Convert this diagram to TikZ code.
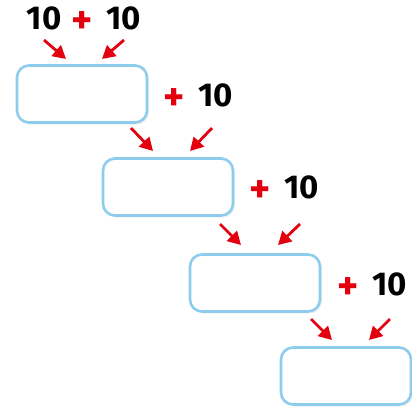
\documentclass[tikz,border=0pt]{standalone}
\usepackage{fontspec}
\setmainfont{Fira Sans}
\usepackage{xcolor}
\usepackage{tikz}
\usetikzlibrary{arrows.meta,shadows}
\definecolor{skyline}{HTML}{8CCDEE}
\definecolor{plusred}{HTML}{E3000F}
\newcommand{\redplus}{\textcolor{plusred}{\fontsize{20}{18}\selectfont\raisebox{-2.2pt}{+}}}

\begin{document}
\begin{tikzpicture}[x=0.5pt,y=-0.5pt,
  answer/.style={draw=skyline,line width=1.3pt,fill=white,rounded corners=6pt,
    minimum width=65pt,minimum height=28.5pt,inner sep=0pt,
    drop shadow={opacity=0.12,shadow xshift=1pt,shadow yshift=-1pt}},
  sum/.style={font=\fontsize{16.5}{18}\selectfont\bfseries,inner sep=0pt},
  hint/.style={plusred,line width=1.4pt,-{Triangle[length=6.5pt,width=7pt]}}]
\useasboundingbox (0,0) rectangle (412,408);
% boxes, one step down and right each time
\node[answer] (b1) at (82,94) {};
\node[answer] (b2) at (168,187) {};
\node[answer] (b3) at (255,283) {};
\node[answer] (b4) at (346,376) {};
% the sums
\node[sum] (s0) at (84,20) {10\hspace{5pt}\redplus\hspace{7pt}10};
\node[sum] (s1) at (198,97) {\redplus\hspace{7pt}10};
\node[sum] (s2) at (284,189) {\redplus\hspace{7pt}10};
\node[sum] (s3) at (372,286) {\redplus\hspace{7pt}10};
% arrow ends
\coordinate (a1) at (44,40);  \coordinate (e1) at (66,59);
\coordinate (c1) at (124,40); \coordinate (f1) at (102,59);
\coordinate (a2) at (131,128); \coordinate (e2) at (153,151);
\coordinate (c2) at (212,128); \coordinate (f2) at (190,151);
\coordinate (a3) at (220,224); \coordinate (e3) at (241,245);
\coordinate (c3) at (300,224); \coordinate (f3) at (278,245);
\coordinate (a4) at (311,319); \coordinate (e4) at (332,340);
\coordinate (c4) at (390,319); \coordinate (f4) at (369,340);
\draw[hint] (a1) -- (e1);
\draw[hint] (c1) -- (f1);
\draw[hint] (a2) -- (e2);
\draw[hint] (c2) -- (f2);
\draw[hint] (a3) -- (e3);
\draw[hint] (c3) -- (f3);
\draw[hint] (a4) -- (e4);
\draw[hint] (c4) -- (f4);
\end{tikzpicture}
\end{document}
